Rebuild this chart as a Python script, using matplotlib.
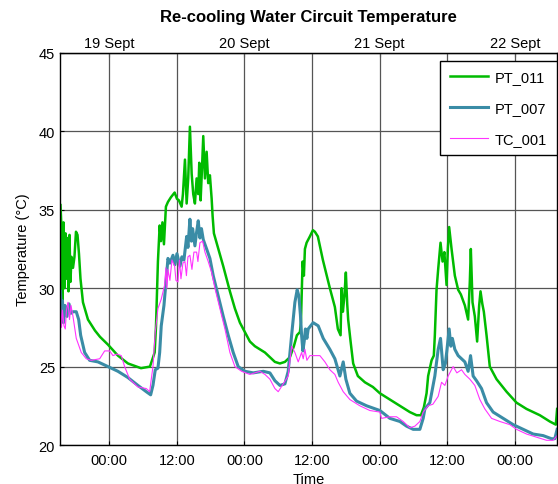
import matplotlib.pyplot as plt

plt.rcParams['font.family'] = ['Liberation Sans', 'DejaVu Sans']

# time in hours from 19 Sept 00:00
t_pt011 = [-8.66, -8.48, -8.31, -8.13, -7.95, -7.77, -7.60, -7.42, -7.24, -7.06, -6.89, -6.71,
           -6.44, -6.18, -5.91, -5.64, -5.38, -5.11, -4.67, -3.78, -2.54, -1.65, -0.23, 1.54,
           3.32, 5.63, 7.22, 8.06, 8.29, 8.64, 8.95, 9.18, 9.44, 9.71, 10.06, 10.42, 10.95,
           11.61, 12.02, 12.37, 12.85, 13.08, 13.44, 13.74, 14.02, 14.32, 14.63, 14.91, 15.21,
           15.51, 15.80, 15.98, 16.22, 16.45, 16.69, 16.99, 17.29, 17.57, 17.87, 18.18, 18.35,
           18.58, 19.06, 20.24, 21.42, 22.31, 23.20, 24.09, 24.97, 25.86, 26.75, 27.64, 28.52,
           29.41, 30.30, 31.19, 32.07, 32.78, 33.32, 33.85, 34.03, 34.33, 34.56, 34.74, 35.04,
           35.62, 36.16, 36.51, 37.04, 37.93, 39.17, 40.06, 40.59, 41.07, 41.25, 41.48, 41.75,
           42.01, 42.25, 42.42, 42.85, 43.31, 44.14, 45.39, 46.81, 48.05, 49.82, 51.60, 53.37,
           54.56, 55.33, 55.86, 56.34, 56.62, 57.23, 57.63, 57.81, 58.11, 58.40, 58.82, 59.18,
           59.50, 59.89, 60.12, 60.35, 60.78, 61.36, 61.95, 62.43, 63.14, 63.72, 64.02, 64.20,
           64.50, 64.91, 65.32, 65.68, 65.92, 66.24, 66.51, 66.99, 67.57, 68.76, 70.54, 72.31,
           74.09, 76.45, 78.22, 79.29, 79.52]
pt011 = [35.3, 33.8, 28.6, 34.2, 30.0, 33.5, 30.6, 33.2, 29.8, 33.4, 30.4, 32.0,
         31.3, 32.0, 33.6, 33.4, 32.2, 30.6, 29.1, 28.0, 27.3, 26.9, 26.4, 25.7,
         25.2, 24.9, 25.0, 25.9, 27.5, 31.7, 34.0, 33.0, 34.2, 32.8, 35.2, 35.5, 35.8,
         36.1, 35.7, 35.6, 35.2, 36.0, 38.2, 35.4, 37.0, 40.3, 37.3, 36.0, 35.4,
         37.0, 36.0, 38.0, 35.6, 37.5, 39.7, 37.0, 38.7, 36.7, 37.2, 35.7, 34.6,
         33.5, 32.9, 31.4, 29.8, 28.7, 27.8, 27.2, 26.6, 26.3, 26.1, 25.9, 25.6,
         25.3, 25.2, 25.3, 25.6, 26.3, 27.0, 27.2, 27.8, 31.7, 30.8, 32.5, 32.9,
         33.3, 33.7, 33.6, 33.3, 31.8, 30.0, 28.8, 27.4, 27.0, 30.0, 28.5, 29.5,
         31.0, 29.0, 28.0, 26.6, 25.2, 24.4, 24.0, 23.7, 23.3, 22.9, 22.5, 22.1,
         21.9, 21.9, 22.4, 23.3, 24.4, 25.4, 25.7, 27.0, 29.9, 31.2, 32.9, 31.7,
         32.3, 30.2, 32.5, 33.9, 32.5, 30.8, 29.9, 29.6, 28.9, 28.0, 30.4, 32.5,
         29.1, 28.2, 26.6, 28.9, 29.8, 29.0, 28.5, 27.0, 25.0, 24.2, 23.4, 22.7,
         22.3, 21.9, 21.5, 21.3, 22.3]

t_pt007 = [-8.66, -8.48, -8.31, -8.13, -7.86, -7.51, -7.15, -6.80, -6.44, -5.86, -5.43, -5.08,
           -4.37, -3.48, -2.01, -0.23, 1.54, 3.32, 5.09, 6.57, 7.35, 7.76, 8.17, 8.64, 8.95,
           9.23, 9.71, 10.12, 10.42, 10.77, 11.31, 11.66, 12.02, 12.55, 12.90, 13.26, 13.74,
           13.97, 14.32, 14.59, 14.80, 15.21, 15.48, 15.80, 16.10, 16.37, 16.69, 17.29, 17.87,
           18.46, 19.35, 20.24, 21.12, 22.01, 22.90, 24.09, 25.56, 27.34, 28.52, 29.41, 30.30,
           31.19, 31.77, 32.38, 32.96, 33.37, 33.67, 33.94, 34.15, 34.38, 34.61, 34.83, 35.09,
           35.32, 36.21, 37.10, 37.99, 39.17, 40.06, 40.95, 41.54, 42.01, 42.72, 43.91, 45.69,
           48.05, 49.82, 51.60, 52.79, 53.96, 55.15, 55.74, 56.04, 56.92, 57.81, 58.40, 58.82,
           59.29, 59.68, 59.94, 60.35, 60.65, 60.92, 61.36, 61.95, 62.55, 63.14, 63.72, 64.15,
           64.61, 65.21, 66.10, 66.99, 68.16, 69.94, 71.71, 73.49, 75.26, 77.04, 78.53, 79.11,
           79.52]
pt007 = [29.8, 28.3, 29.2, 27.8, 28.9, 28.2, 29.0, 28.4, 28.5, 28.5, 28.0, 27.0,
         25.9, 25.4, 25.3, 25.0, 24.7, 24.3, 23.8, 23.4, 23.2, 23.8, 24.8, 24.9, 25.9,
         27.6, 28.9, 30.6, 31.9, 31.6, 32.1, 31.5, 32.2, 31.4, 32.0, 31.8, 33.3,
         32.6, 34.4, 33.0, 33.8, 32.7, 33.5, 34.3, 33.2, 33.8, 33.1, 32.5, 31.9,
         30.8, 29.5, 28.2, 27.0, 25.9, 25.0, 24.7, 24.6, 24.7, 24.6, 24.1, 23.8,
         23.9, 24.7, 27.0, 29.1, 29.9, 29.5, 28.3, 27.0, 26.0, 26.6, 27.4, 26.8,
         27.4, 27.8, 27.6, 26.8, 26.1, 25.5, 24.4, 25.3, 24.2, 23.3, 22.8, 22.5,
         22.2, 21.7, 21.5, 21.2, 21.0, 21.0, 21.7, 22.3, 22.7, 24.4, 26.1, 26.8,
         24.8, 25.2, 26.0, 27.4, 26.3, 26.8, 26.1, 25.7, 25.5, 25.3, 24.7, 25.7,
         24.4, 24.1, 23.6, 22.7, 22.1, 21.7, 21.3, 21.0, 20.7, 20.6, 20.4, 20.4,
         21.0]

t_tc001 = [-8.66, -8.48, -8.31, -8.04, -7.81, -7.60, -7.33, -7.06, -6.80, -6.44, -5.86, -4.97,
           -4.08, -3.20, -1.70, -0.82, 0.07, 0.66, 1.37, 2.13, 2.73, 3.62, 5.09, 6.57, 7.17,
           7.46, 7.76, 8.17, 8.64, 9.23, 9.83, 10.06, 10.24, 10.42, 10.77, 11.13, 11.61, 11.84,
           12.20, 12.46, 12.73, 13.08, 13.44, 13.70, 13.97, 14.32, 14.68, 15.03, 15.51, 15.74,
           16.10, 16.58, 16.99, 17.57, 18.18, 18.76, 19.65, 20.54, 21.42, 22.31, 23.50, 24.97,
           26.75, 27.64, 28.52, 29.41, 30.00, 30.89, 31.77, 32.38, 32.96, 33.55, 34.15, 34.44,
           34.74, 35.09, 35.62, 36.51, 37.40, 38.29, 39.17, 40.06, 40.65, 41.54, 42.72, 44.50,
           46.27, 48.05, 48.35, 49.82, 51.01, 52.19, 53.37, 54.26, 55.15, 55.74, 56.62, 57.46,
           58.40, 59.00, 59.59, 60.17, 61.06, 61.72, 62.55, 63.14, 64.02, 64.91, 65.80, 66.69,
           67.88, 69.35, 71.12, 72.31, 74.09, 75.86, 77.64, 78.81, 79.52]
tc001 = [28.9, 27.5, 28.6, 27.6, 27.4, 28.6, 29.1, 28.0, 28.9, 28.2, 26.8, 25.9,
         25.5, 25.4, 25.5, 26.0, 26.0, 25.7, 25.8, 25.7, 25.0, 24.2, 23.7, 23.6, 23.4,
         24.2, 25.0, 27.2, 28.7, 29.3, 30.2, 31.3, 30.0, 31.2, 30.5, 31.8, 31.4, 30.5,
         30.4, 31.8, 30.6, 31.6, 31.7, 30.8, 32.0, 32.1, 31.2, 32.3, 32.3, 31.7,
         32.9, 33.0, 32.3, 31.7, 31.0, 30.0, 28.7, 27.4, 25.9, 25.0, 24.7, 24.5,
         24.7, 24.5, 24.2, 23.6, 23.4, 23.9, 24.4, 26.3, 25.9, 25.3, 25.9, 25.5,
         26.1, 25.4, 25.7, 25.7, 25.7, 25.3, 24.8, 24.5, 24.0, 23.4, 22.9, 22.5,
         22.2, 22.1, 21.7, 21.8, 21.8, 21.5, 21.1, 21.2, 21.5, 22.1, 22.5, 22.6,
         23.1, 24.0, 23.8, 24.4, 25.0, 24.6, 24.8, 24.5, 24.2, 23.8, 22.9, 22.3,
         21.7, 21.5, 21.3, 21.0, 20.7, 20.5, 20.3, 20.3, 20.6]

hour_ticks = [0, 12, 24, 36, 48, 60, 72]
hour_labels = ['00:00', '12:00', '00:00', '12:00', '00:00', '12:00', '00:00']
day_ticks = [0, 24, 48, 72]
day_labels = ['19 Sept', '20 Sept', '21 Sept', '22 Sept']

fig = plt.figure(figsize=(5.58, 4.85), dpi=100)
ax = fig.add_axes([0.1075, 0.0804, 0.8907, 0.8083])

ax.plot(t_pt011, pt011, color='#00bb00', lw=1.8, label='PT_011')
ax.plot(t_pt007, pt007, color='#3a8ca6', lw=2.2, label='PT_007')
ax.plot(t_tc001, tc001, color='#ff33ff', lw=0.8, label='TC_001')

ax.set_xlim(-8.75, 79.5)
ax.set_ylim(20, 45)
ax.set_yticks([20, 25, 30, 35, 40, 45])
ax.set_xticks(hour_ticks)
ax.set_xticklabels(hour_labels)
ax.tick_params(direction='in', length=3, labelsize=10.5, colors='black')
ax.tick_params(axis='x', pad=6)
ax.grid(True, color='#555555', lw=0.9)

top = ax.secondary_xaxis('top')
top.set_xticks(day_ticks)
top.set_xticklabels(day_labels)
top.tick_params(direction='in', length=3, labelsize=10.5, pad=2)

for s in ax.spines.values():
    s.set_linewidth(1.0)

ax.set_xlabel('Time', fontsize=10.5, labelpad=3)
ax.set_ylabel('Temperature (°C)', fontsize=10.5, labelpad=6)
ax.set_title('Re-cooling Water Circuit Temperature', fontsize=12, fontweight='bold', pad=23)

leg = ax.legend(loc='upper right', bbox_to_anchor=(0.9994, 0.98), fontsize=10.5,
                handlelength=2.6, handletextpad=0.5, labelspacing=1.15, borderaxespad=0,
                borderpad=0.65, fancybox=False, framealpha=1, edgecolor='black')
leg.get_frame().set_linewidth(1.0)

fig.savefig('out.png', dpi=100)
